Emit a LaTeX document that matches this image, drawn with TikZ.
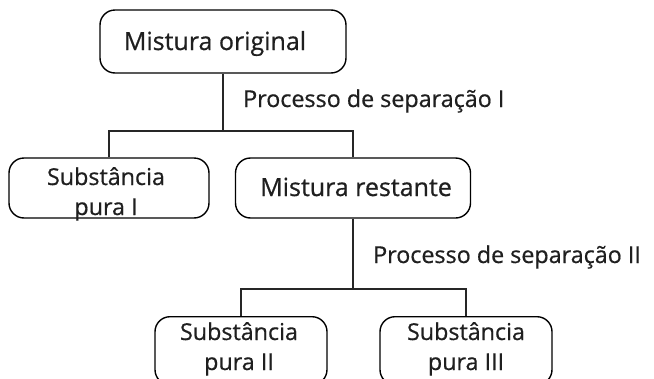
\documentclass[tikz,border=0pt]{standalone}
\usepackage{fontspec}
\setmainfont{Open Sans}[RawFeature={embolden=0.6}]
\begin{document}
\begin{tikzpicture}[x=1pt,y=-1pt,
  box/.style={draw=black, line width=1.4pt, rounded corners=15pt, inner sep=0pt},
  txt/.style={font=\fontsize{23.3}{30}\selectfont, text=black!88, inner sep=0pt, anchor=base},
  bigtxt/.style={txt, font=\fontsize{25}{30}\selectfont},
  conn/.style={draw=black!85, line width=1.2pt},
  lbl/.style={font=\fontsize{23.3}{30}\selectfont, text=black!88, inner sep=0pt, anchor=base west}]
\clip (0,0) rectangle (654,378);
\useasboundingbox (0,0) rectangle (654,378);
% boxes
\node[box, minimum width=246pt, minimum height=63pt] (orig) at (223,41.5) {};
\node[box, minimum width=200pt, minimum height=60pt] (sub1) at (109,188) {};
\node[box, minimum width=235pt, minimum height=60pt] (rest) at (353,188) {};
\node[box, minimum width=172pt, minimum height=68pt, anchor=north] (sub2) at (241,316) {};
\node[box, minimum width=172pt, minimum height=68pt, anchor=north] (sub3) at (466,316) {};
% texts
\node[bigtxt] (origt) at (215,50) {Mistura original};
\node[txt] (sub1a) at (106,185) {Substância};
\node[txt] (sub1b) at (106,215) {pura I};
\node[bigtxt] (restt) at (356,196) {Mistura restante};
\node[txt] (sub2a) at (239,340) {Substância};
\node[txt] (sub2b) at (239,370) {pura II};
\node[txt] (sub3a) at (466,340) {Substância};
\node[txt] (sub3b) at (466,370) {pura III};
% connectors
\coordinate (j1) at (223,131);
\coordinate (j2) at (353,289);
\draw[conn] (orig.south) -- (j1);
\draw[conn] (sub1.north) |- (j1) -| (rest.north);
\draw[conn] (rest.south) -- (j2);
\draw[conn] (sub2.north) |- (j2) -| (sub3.north);
% labels
\node[lbl] (p1) at (243,107) {Processo de separação I};
\node[lbl] (p2) at (373,263) {Processo de separação II};
\end{tikzpicture}
\end{document}
